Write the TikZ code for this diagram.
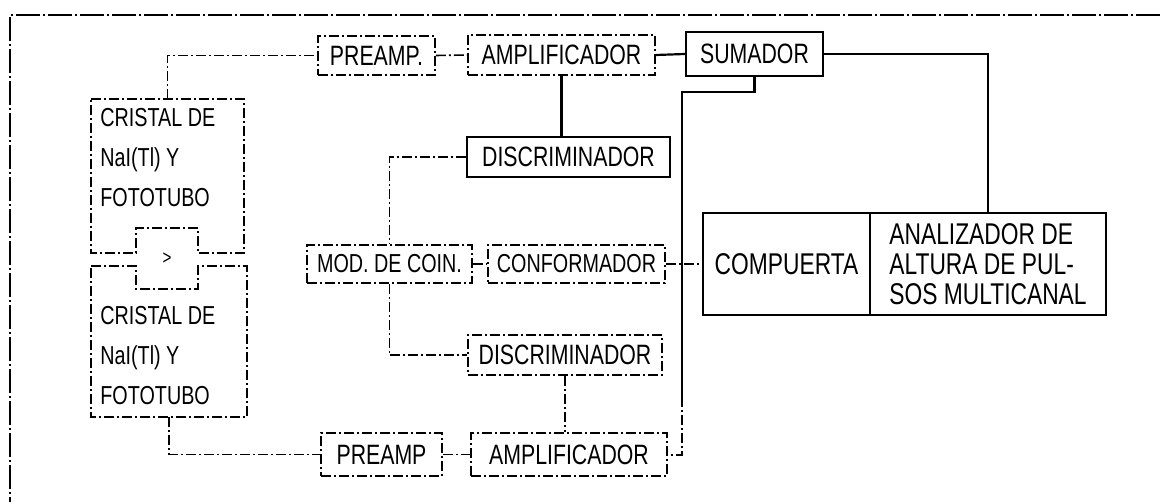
\documentclass[tikz,border=0pt]{standalone}
\usepackage{fontspec}
\newfontfamily\lab[FakeStretch=0.76]{Liberation Sans}
\begin{document}
\begin{tikzpicture}[x=0.5pt,y=-0.5pt,
  solidbox/.style={draw,line width=1.2pt,rectangle,inner sep=0pt,font=\lab\fontsize{14}{16}\selectfont},
  fadebox/.style={draw,line width=0.9pt,rectangle,inner sep=0pt,dash pattern=on 5pt off 1.5pt on 1pt off 1.5pt,font=\lab\fontsize{14}{16}\selectfont},
  smalltext/.style={font=\lab\fontsize{13}{16}\selectfont},
  fadeline/.style={line width=0.8pt,dash pattern=on 5pt off 1.5pt on 1pt off 1.5pt},
  solidline/.style={line width=1.1pt},
  frameline/.style={line width=1.1pt,dash pattern=on 12pt off 1.5pt on 1pt off 1.5pt},
  txt/.style={inner sep=0pt,align=left,font=\lab\fontsize{13}{20}\selectfont}
]
\useasboundingbox (0,0) rectangle (1160,502);
% outer frame (top and left edges)
\draw[frameline] (1160,15) -- (10,15) -- (10,502);

% crystal boxes (with notch for source)
\node[inner sep=0pt,minimum width=76.5pt,minimum height=77pt] (ct) at (167.5,176) {};
\node[inner sep=0pt,minimum width=78pt,minimum height=75.5pt] (cb) at (169,341.5) {};
\draw[fadeline,line width=1pt] (91,99) -- (244,99) -- (244,253) -- (198,253) -- (198,228) -- (136,228) -- (136,253) -- (91,253) -- cycle;
\draw[fadeline,line width=1pt] (91,266) -- (136,266) -- (136,289) -- (198,289) -- (198,266) -- (247,266) -- (247,417) -- (91,417) -- cycle;
\node[txt,anchor=north west] (ctl) at (100,108) {CRISTAL DE\\NaI(Tl) Y\\FOTOTUBO};
\node[txt,anchor=north west] (cbl) at (100,306) {CRISTAL DE\\NaI(Tl) Y\\FOTOTUBO};
\node[inner sep=0pt,font=\lab\fontsize{10}{12}\selectfont] (src) at (167,259) {>};

% blocks
\node[fadebox,minimum width=58.5pt,minimum height=19.5pt] (pre1) at (376.5,55.5) {PREAMP.};
\node[fadebox,minimum width=93.5pt,minimum height=20pt] (amp1) at (561.5,55) {AMPLIFICADOR};
\node[solidbox,minimum width=68.5pt,minimum height=22pt] (sum) at (754.5,54) {SUMADOR};
\node[solidbox,minimum width=101.5pt,minimum height=20pt] (dis1) at (568.5,157) {DISCRIMINADOR};
\node[fadebox,smalltext,minimum width=82.5pt,minimum height=19pt] (coin) at (389.5,264) {MOD. DE COIN.};
\node[fadebox,smalltext,minimum width=88.5pt,minimum height=19pt] (conf) at (576.5,264) {CONFORMADOR};
\node[fadebox,minimum width=97pt,minimum height=20pt] (dis2) at (565,355) {DISCRIMINADOR};
\node[fadebox,minimum width=60.5pt,minimum height=21.5pt] (pre2) at (381.5,454.5) {PREAMP};
\node[fadebox,minimum width=98pt,minimum height=21.5pt] (amp2) at (569,454.5) {AMPLIFICADOR};
\node[solidbox,minimum width=83.5pt,minimum height=51pt,font=\lab\fontsize{15}{16}\selectfont] (comp) at (786.5,264) {COMPUERTA};
\node[solidbox,minimum width=118pt,minimum height=51pt,align=left,font=\lab\fontsize{15}{15}\selectfont] (anal) at (988,264) {ANALIZADOR DE\\ALTURA DE PUL-\\SOS MULTICANAL};

% connectors
\draw[fadeline] (ct.north) |- (pre1.west);
\draw[fadeline] (pre1.east) -- (amp1.west);
\draw[solidline] (amp1.east) -- (sum.west);
\draw[solidline] (amp1.south) -- (amp1.south |- dis1.north);
\draw[fadeline] (dis1.west) -| (coin.north);
\draw[fadeline] (coin.east) -- (conf.west);
\draw[fadeline] (conf.east) -- (comp.west);
\draw[solidline] (sum.east) -| (anal.north);
\coordinate (bus) at (682,92);
\coordinate (busm) at (682,397);
\coordinate (busb) at (682,454.5);
\draw[solidline,line width=1.4pt] (sum.south) |- (bus) -- (busm);
\draw[fadeline,line width=1pt] (busm) -- (busb) -- (amp2.east);
\draw[fadeline] (coin.south) |- (dis2.west);
\draw[fadeline] (dis2.south) -- (dis2.south |- amp2.north);
\draw[fadeline] (cb.south) |- (pre2.west);
\draw[fadeline] (pre2.east) -- (amp2.west);
\end{tikzpicture}
\end{document}
